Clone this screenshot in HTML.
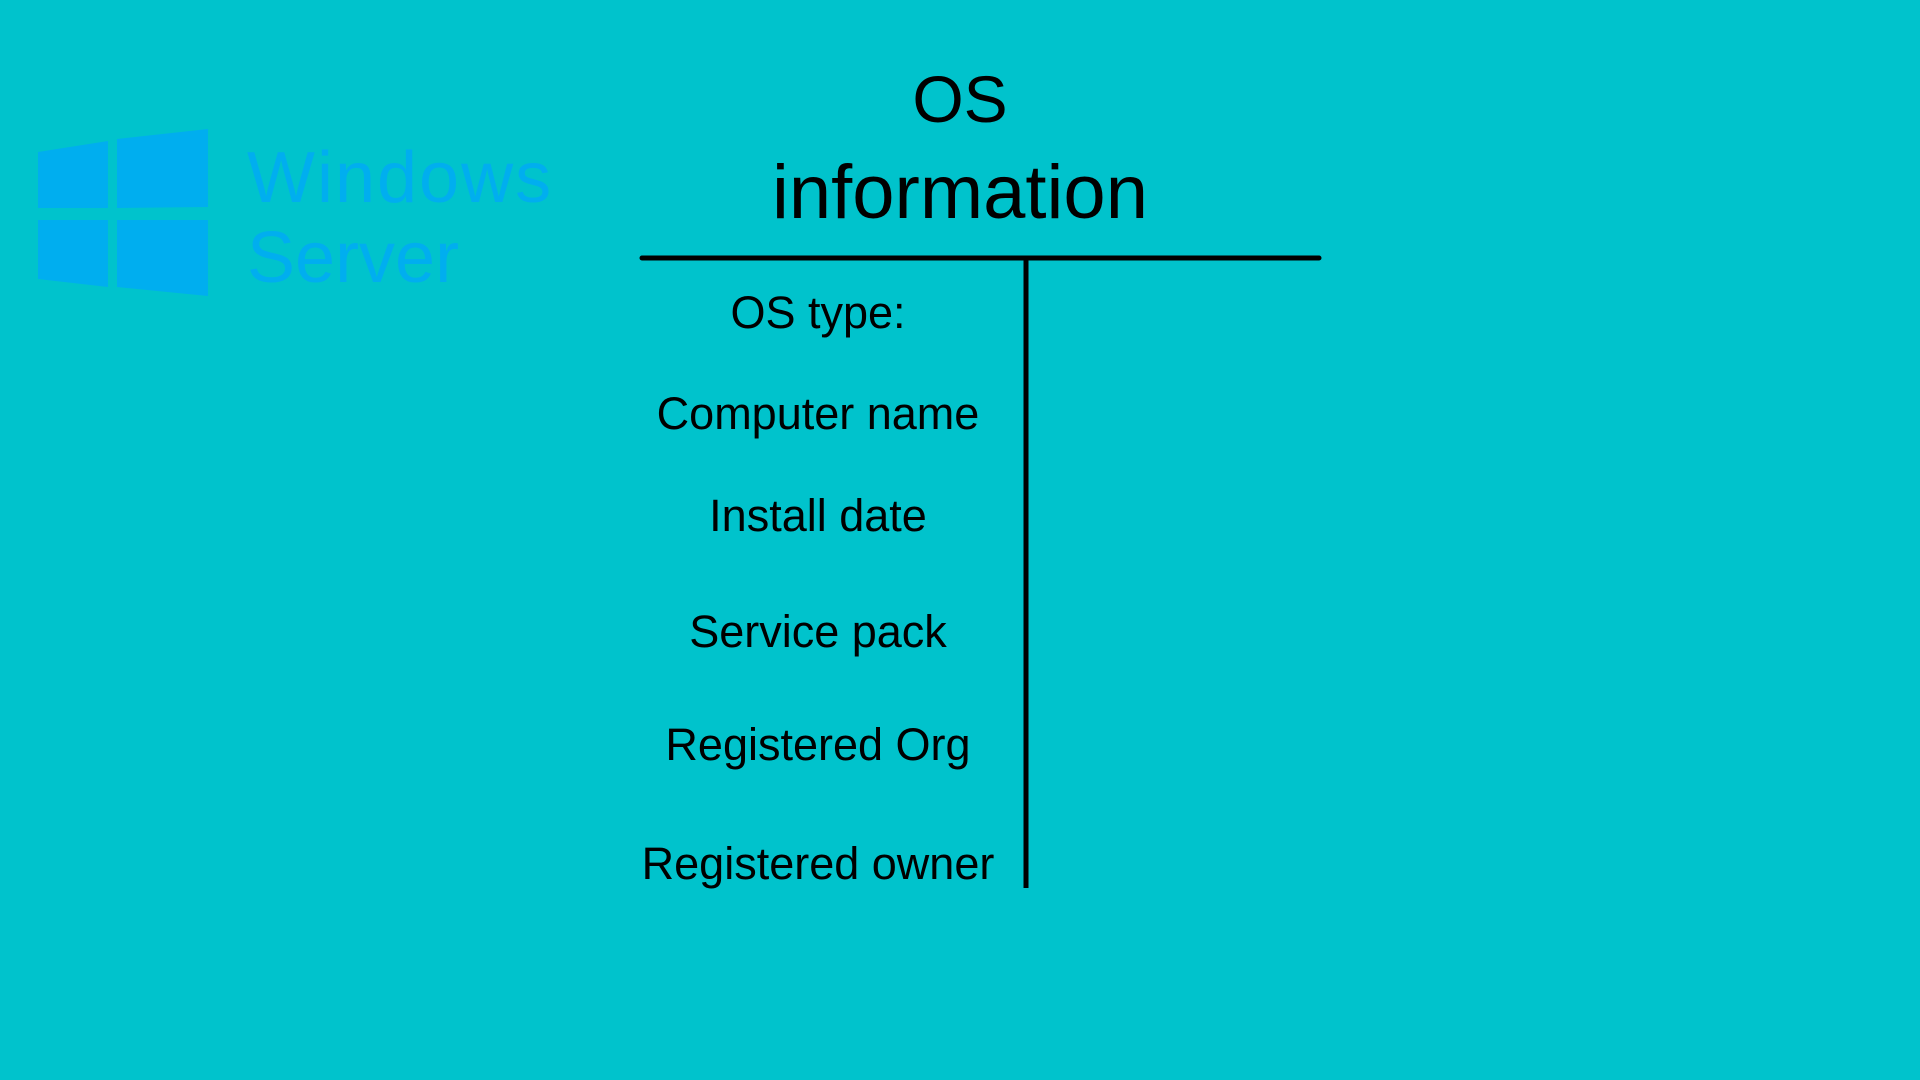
<!DOCTYPE html>
<html><head><meta charset="utf-8"><style>
html,body{margin:0;padding:0;}
body{width:1920px;height:1080px;background:#00c3cc;overflow:hidden;position:relative;font-family:"Liberation Sans",sans-serif;}
</style></head><body>
<svg width="1920" height="1080" viewBox="0 0 1920 1080" style="position:absolute;left:0;top:0">
<g fill="#00aeef">
<polygon points="38,152 108,141 108,208 38,208"/>
<polygon points="117,139 208,129 208,207 117,208"/>
<polygon points="38,220 108,220 108,287 38,279"/>
<polygon points="117,220 208,220 208,296 117,287"/>
<text x="247" y="202" font-size="72" letter-spacing="2" font-family="Liberation Sans, sans-serif">Windows</text>
<text x="247" y="282" font-size="72" font-family="Liberation Sans, sans-serif">Server</text>
</g>
<g fill="#000" font-family="Liberation Sans, sans-serif" text-anchor="middle">
<text x="960" y="122" font-size="66">OS</text>
<text x="960" y="218" font-size="76">information</text>
<g font-size="45">
<text x="818" y="328">OS type:</text>
<text x="818" y="429">Computer name</text>
<text x="818" y="531">Install date</text>
<text x="818" y="647">Service pack</text>
<text x="818" y="760">Registered Org</text>
<text x="818" y="879">Registered owner</text>
</g>
</g>
<line x1="642" y1="258" x2="1319" y2="258" stroke="#000" stroke-width="5" stroke-linecap="round"/>
<line x1="1026" y1="258" x2="1026" y2="888" stroke="#000" stroke-width="5"/>
</svg>
</body></html>
